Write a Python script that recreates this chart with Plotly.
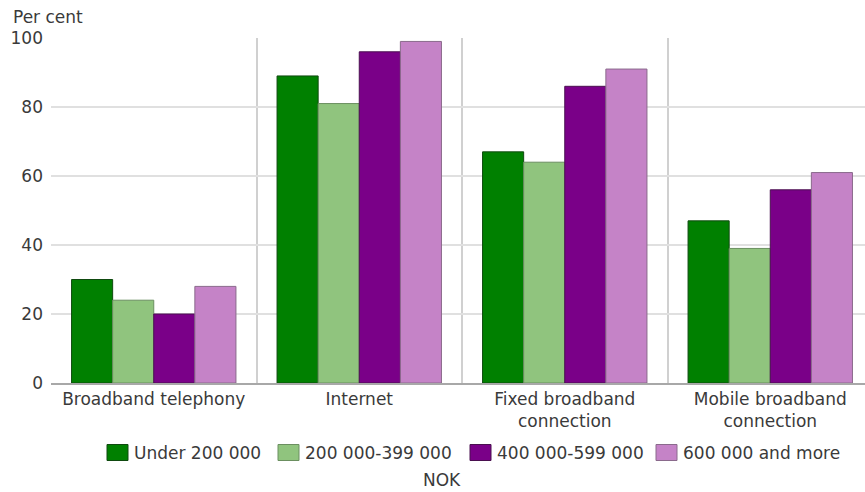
import plotly.graph_objects as go

categories = ["Broadband telephony", "Internet", "Fixed broadband<br>connection", "Mobile broadband<br>connection"]
series_names = ["Under 200 000", "200 000-399 000", "400 000-599 000", "600 000 and more"]
under_200k = [30, 89, 67, 47]
from_200k_to_399k = [24, 81, 64, 39]
from_400k_to_599k = [20, 96, 86, 56]
from_600k = [28, 99, 91, 61]
y_ticks = [0, 20, 40, 60, 80, 100]

series_values = [under_200k, from_200k_to_399k, from_400k_to_599k, from_600k]
fill_colors = ["#008000", "#90c47e", "#7a0088", "#c583c7"]
edge_colors = ["#0f4a0f", "#6b8f60", "#4a1050", "#8a6a8c"]

FONT = "DejaVu Sans"
FSIZE = 17
TEXT = "#3a3a3a"

# plot area in pixels (left, right, top, bottom)
PL, PR, PT, PB = 51, 865, 38, 383


def px_x(x):
    return (x - PL) / (PR - PL)


def px_y(y):
    return (PB - y) / (PB - PT)


fig = go.Figure()
for name, vals, fc, ec in zip(series_names, series_values, fill_colors, edge_colors):
    fig.add_trace(go.Bar(
        x=categories, y=vals, name=name, showlegend=False,
        marker=dict(color=fc, line=dict(color=ec, width=1)),
    ))

# legend drawn as swatches + labels in one centred row
legend_swatch_left = [107, 278, 470, 656]
shapes = []
annotations = []
for name, fc, ec, sx in zip(series_names, fill_colors, edge_colors, legend_swatch_left):
    shapes.append(dict(
        type="rect", xref="paper", yref="paper",
        x0=px_x(sx), x1=px_x(sx + 21), y0=px_y(460.5), y1=px_y(444.5),
        fillcolor=fc, line=dict(color=ec, width=1),
    ))
    annotations.append(dict(
        text=name, xref="paper", yref="paper", x=px_x(sx + 25), y=px_y(452.5),
        xanchor="left", yanchor="middle", showarrow=False,
        font=dict(family=FONT, size=FSIZE, color=TEXT),
    ))

annotations += [
    dict(text="Per cent", xref="paper", yref="paper", x=px_x(11), y=px_y(17),
         xanchor="left", yanchor="middle", showarrow=False,
         font=dict(family=FONT, size=FSIZE, color=TEXT)),
    dict(text="NOK", xref="paper", yref="paper", x=px_x(442), y=px_y(480),
         xanchor="center", yanchor="middle", showarrow=False,
         font=dict(family=FONT, size=FSIZE, color=TEXT)),
]

fig.update_layout(
    width=865, height=492,
    margin=dict(l=PL, r=865 - PR, t=PT, b=492 - PB),
    paper_bgcolor="white", plot_bgcolor="white",
    barmode="group", bargap=0.2, bargroupgap=0,
    font=dict(family=FONT, size=FSIZE, color=TEXT),
    showlegend=False,
    shapes=shapes,
    annotations=annotations,
)

fig.update_xaxes(
    type="category", range=[-0.5, 3.461],
    tickson="boundaries", ticks="", showgrid=True, gridcolor="#d0d0d0", gridwidth=1.5,
    showline=True, linecolor="#a8a8a8", linewidth=1.5,
    tickfont=dict(family=FONT, size=FSIZE, color=TEXT),
    zeroline=False,
)
fig.update_yaxes(
    range=[0, 100], tickvals=y_ticks, showgrid=True, gridcolor="#e0e0e0", gridwidth=1.5,
    zeroline=False, showline=False, ticks="", ticklabelstandoff=7,
    tickfont=dict(family=FONT, size=FSIZE, color=TEXT),
)

fig.write_html("out.html")
